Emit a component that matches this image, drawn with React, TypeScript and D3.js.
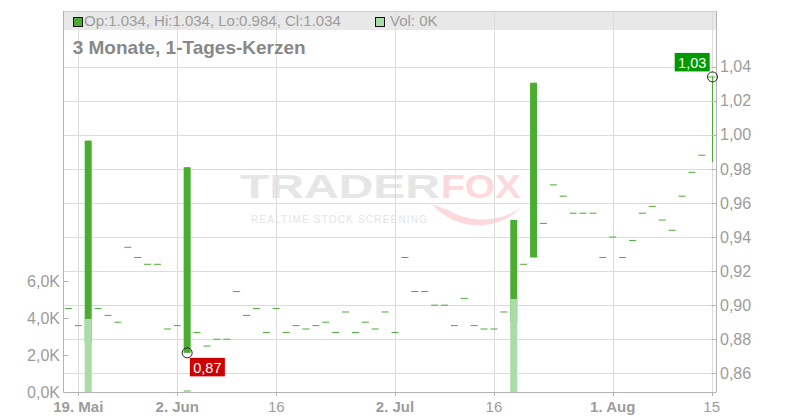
import React from "react";
import * as d3 from "d3";

// Trading days (index -1 .. 64 of the visible range)
const dates = [
  "2025-05-16",
  "2025-05-19", "2025-05-20", "2025-05-21", "2025-05-22", "2025-05-23",
  "2025-05-26", "2025-05-27", "2025-05-28", "2025-05-29", "2025-05-30",
  "2025-06-02", "2025-06-03", "2025-06-04", "2025-06-05", "2025-06-06",
  "2025-06-09", "2025-06-10", "2025-06-11", "2025-06-12", "2025-06-13",
  "2025-06-16", "2025-06-17", "2025-06-18", "2025-06-19", "2025-06-20",
  "2025-06-23", "2025-06-24", "2025-06-25", "2025-06-26", "2025-06-27",
  "2025-06-30", "2025-07-01", "2025-07-02", "2025-07-03", "2025-07-04",
  "2025-07-07", "2025-07-08", "2025-07-09", "2025-07-10", "2025-07-11",
  "2025-07-14", "2025-07-15", "2025-07-16", "2025-07-17", "2025-07-18",
  "2025-07-21", "2025-07-22", "2025-07-23", "2025-07-24", "2025-07-25",
  "2025-07-28", "2025-07-29", "2025-07-30", "2025-07-31", "2025-08-01",
  "2025-08-04", "2025-08-05", "2025-08-06", "2025-08-07", "2025-08-08",
  "2025-08-11", "2025-08-12", "2025-08-13", "2025-08-14", "2025-08-15",
];

const opens = [
  0.898,
  0.888, 0.878, 0.898, 0.894, 0.890, 0.934, 0.928, 0.924, 0.924, 0.886,
  0.888, 0.872, 0.884, 0.876, 0.880, 0.880, 0.908, 0.894, 0.898, 0.884,
  0.898, 0.884, 0.888, 0.886, 0.888, 0.890, 0.884, 0.896, 0.884, 0.890,
  0.886, 0.896, 0.884, 0.928, 0.908, 0.908, 0.900, 0.900, 0.888, 0.904,
  0.888, 0.886, 0.886, 0.896, 0.890, 0.924, 0.928, 0.948, 0.9706, 0.964,
  0.954, 0.954, 0.954, 0.928, 0.940, 0.928, 0.938, 0.954, 0.958, 0.950,
  0.944, 0.964, 0.978, 0.988, 1.034,
];

const closes = [
  0.898,
  0.888, 0.9966, 0.898, 0.894, 0.890, 0.934, 0.928, 0.924, 0.924, 0.886,
  0.888, 0.981, 0.884, 0.876, 0.880, 0.880, 0.908, 0.894, 0.898, 0.884,
  0.898, 0.884, 0.888, 0.886, 0.888, 0.890, 0.884, 0.896, 0.884, 0.890,
  0.886, 0.896, 0.884, 0.928, 0.908, 0.908, 0.900, 0.900, 0.888, 0.904,
  0.888, 0.886, 0.886, 0.896, 0.950, 0.924, 1.0306, 0.948, 0.9706, 0.964,
  0.954, 0.954, 0.954, 0.928, 0.940, 0.928, 0.938, 0.954, 0.958, 0.950,
  0.944, 0.964, 0.978, 0.988, 1.034,
];

const highs = [
  0.898,
  0.888, 0.9966, 0.898, 0.894, 0.890, 0.934, 0.928, 0.924, 0.924, 0.886,
  0.888, 0.981, 0.884, 0.876, 0.880, 0.880, 0.908, 0.894, 0.898, 0.884,
  0.898, 0.884, 0.888, 0.886, 0.888, 0.890, 0.884, 0.896, 0.884, 0.890,
  0.886, 0.896, 0.884, 0.928, 0.908, 0.908, 0.900, 0.900, 0.888, 0.904,
  0.888, 0.886, 0.886, 0.896, 0.950, 0.924, 1.0306, 0.948, 0.9706, 0.964,
  0.954, 0.954, 0.954, 0.928, 0.940, 0.928, 0.938, 0.954, 0.958, 0.950,
  0.944, 0.964, 0.978, 0.988, 1.034,
];

const lows = [
  0.898,
  0.888, 0.878, 0.898, 0.894, 0.890, 0.934, 0.928, 0.924, 0.924, 0.886,
  0.888, 0.872, 0.884, 0.876, 0.880, 0.880, 0.908, 0.894, 0.898, 0.884,
  0.898, 0.884, 0.888, 0.886, 0.888, 0.890, 0.884, 0.896, 0.884, 0.890,
  0.886, 0.896, 0.884, 0.928, 0.908, 0.908, 0.900, 0.900, 0.888, 0.904,
  0.888, 0.886, 0.886, 0.896, 0.890, 0.924, 0.928, 0.948, 0.9706, 0.964,
  0.954, 0.954, 0.954, 0.928, 0.940, 0.928, 0.938, 0.954, 0.958, 0.950,
  0.944, 0.964, 0.978, 0.988, 0.984,
];

const volumes = [
  0,
  0, 3950, 0, 0, 0, 0, 0, 0, 0, 0,
  0, 110, 0, 0, 0, 0, 0, 0, 0, 0,
  0, 0, 0, 0, 0, 0, 0, 0, 0, 0,
  0, 0, 0, 0, 0, 0, 0, 0, 0, 0,
  0, 0, 0, 0, 5030, 0, 0, 0, 0, 0,
  0, 0, 0, 0, 0, 0, 0, 0, 0, 0,
  0, 0, 0, 0, 0,
];

const priceTicks = [0.86, 0.88, 0.9, 0.92, 0.94, 0.96, 0.98, 1.0, 1.02, 1.04];
const volumeTicks = [0, 2000, 4000, 6000];
const xTickDates = ["2025-05-19", "2025-06-02", "2025-06-16", "2025-07-02", "2025-07-16", "2025-08-01", "2025-08-15"];
const xTickLabels = ["19. Mai", "2. Jun", "16", "2. Jul", "16", "1. Aug", "15"];
const xTickBold = [true, true, false, true, false, true, false];

const legendText = "Op:1.034, Hi:1.034, Lo:0.984, Cl:1.034";
const volLegendText = "Vol: 0K";
const titleText = "3 Monate, 1-Tages-Kerzen";

const FONT = "'Liberation Sans', Arial, Helvetica, sans-serif";
const GREEN = "#4aad32";
const VOL_GREEN = "#a9dca6";
const GRID = "#dcdcdc";
const AXIS = "#b4b4b4";
const TEXT = "#9c9c9c";

export default function App() {
  const W = 800;
  const H = 420;
  const left = 63.5;
  const right = 716.5;
  const top = 11;
  const bottom = 392;

  const x = d3.scalePoint<string>().domain(dates).range([68.4, 711.7]);
  const yP = d3.scaleLinear().domain([0.86, 1.04]).range([373.3, 66.7]);
  const yV = d3.scaleLinear().domain([0, 6000]).range([bottom, 281]);

  const fmtP = (v: number) => d3.format(".2f")(v).replace(".", ",");
  const fmtV = (v: number) => d3.format(".1f")(v / 1000).replace(".", ",") + "K";

  const minI = d3.minIndex(lows);
  const lastI = dates.length - 1;
  const candleW = 7;

  const minX = x(dates[minI])!;
  const minY = yP(lows[minI]);
  const lastX = x(dates[lastI])!;
  const lastY = yP(closes[lastI]);

  return (
    <svg
      width={W}
      height={H}
      style={{ position: "absolute", left: 0, top: 0, background: "#fff" }}
      fontFamily={FONT}
    >
      {/* legend band */}
      <rect x={left} y={top} width={right - left} height={19} fill="#e8e8e8" />

      {/* watermark */}
      <g>
        <text x={240} y={198} fontSize={33} fontWeight="bold" fill="#e6e6e6" textLength={200} lengthAdjust="spacingAndGlyphs">
          TRADER
        </text>
        <text x={441} y={198} fontSize={33} fontWeight="bold" fill="#fdd9de" textLength={80} lengthAdjust="spacingAndGlyphs">
          FOX
        </text>
        <path d="M432,204 C455,232 500,232 522,206 C505,222 470,224 448,210 Z" fill="#fdd9de" />
        <text x={251} y={223} fontSize={10} fill="#e4e4e4" textLength={176} lengthAdjust="spacing">
          REALTIME STOCK SCREENING
        </text>
      </g>

      {/* horizontal grid */}
      {priceTicks.map((t) => (
        <line key={"hg" + t} x1={left} x2={right} y1={Math.round(yP(t)) + 0.5} y2={Math.round(yP(t)) + 0.5} stroke={GRID} />
      ))}
      {/* vertical grid */}
      {xTickDates.map((d) => (
        <line key={"vg" + d} x1={Math.round(x(d)!) + 0.5} x2={Math.round(x(d)!) + 0.5} y1={top} y2={bottom} stroke={GRID} />
      ))}
      <line x1={left} x2={right} y1={top + 0.5} y2={top + 0.5} stroke="#cfcfcf" />

      {/* candles */}
      {dates.map((d, i) => {
        const cx = x(d)!;
        const o = opens[i];
        const c = closes[i];
        const yTop = yP(Math.max(o, c));
        const yBot = yP(Math.min(o, c));
        const h = Math.max(1, yBot - yTop);
        const col = c >= o ? GREEN : "#d62020";
        return (
          <g key={"c" + d}>
            {highs[i] !== lows[i] && (
              <line x1={Math.round(cx) + 0.5} x2={Math.round(cx) + 0.5} y1={yP(highs[i])} y2={yP(lows[i])} stroke={col} strokeWidth={1} />
            )}
            <rect x={cx - candleW / 2} y={yTop - (h === 1 ? 0.5 : 0)} width={candleW} height={h} fill={col} />
          </g>
        );
      })}

      {/* volume bars */}
      {dates.map((d, i) =>
        volumes[i] > 0 ? (
          <rect key={"v" + d} x={x(d)! - candleW / 2} y={yV(volumes[i])} width={candleW} height={bottom - yV(volumes[i])} fill={VOL_GREEN} />
        ) : null
      )}

      {/* axes lines */}
      <line x1={left} x2={left} y1={top} y2={bottom} stroke={AXIS} />
      <line x1={right} x2={right} y1={top} y2={bottom} stroke={AXIS} />
      <line x1={left} x2={right} y1={bottom + 0.5} y2={bottom + 0.5} stroke={AXIS} />

      {/* left volume axis */}
      {volumeTicks.map((t) => (
        <g key={"vt" + t}>
          <line x1={left} x2={left + 5} y1={Math.round(yV(t)) + 0.5} y2={Math.round(yV(t)) + 0.5} stroke={AXIS} />
          <text x={60} y={yV(t)} dy="0.35em" textAnchor="end" fontSize={16} fill={TEXT}>
            {fmtV(t)}
          </text>
        </g>
      ))}

      {/* right price axis */}
      {priceTicks.map((t) => (
        <g key={"pt" + t}>
          <line x1={right - 5} x2={right} y1={Math.round(yP(t)) + 0.5} y2={Math.round(yP(t)) + 0.5} stroke={AXIS} />
          <text x={720} y={yP(t)} dy="0.35em" fontSize={16} fill={TEXT}>
            {fmtP(t)}
          </text>
        </g>
      ))}

      {/* bottom axis */}
      {xTickDates.map((d, i) => (
        <g key={"xt" + d}>
          <line x1={Math.round(x(d)!) + 0.5} x2={Math.round(x(d)!) + 0.5} y1={bottom} y2={bottom + 4} stroke={AXIS} />
          <text x={x(d)!} y={411.7} textAnchor="middle" fontSize={15} fontWeight={xTickBold[i] ? "bold" : "normal"} fill={TEXT}>
            {xTickLabels[i]}
          </text>
        </g>
      ))}

      {/* min marker */}
      <circle cx={minX} cy={minY} r={5} fill="none" stroke="#222" strokeWidth={1} />
      <rect x={minX + 2.7} y={minY + 5} width={35} height={18.5} fill="#cc0000" />
      <text x={minX + 2.7 + 17.5} y={minY + 5 + 15} textAnchor="middle" fontSize={14.5} fill="#fff">
        {fmtP(lows[minI])}
      </text>

      {/* last price marker */}
      <circle cx={Math.round(lastX) + 0.5} cy={lastY} r={5} fill="none" stroke="#222" strokeWidth={1} />
      <rect x={lastX - 37} y={lastY - 24} width={35} height={18.5} fill="#009a00" />
      <text x={lastX - 37 + 17.5} y={lastY - 24 + 15} textAnchor="middle" fontSize={14.5} fill="#fff">
        {fmtP(closes[lastI])}
      </text>

      {/* legend */}
      <rect x={73.5} y={17.5} width={9} height={9} fill={GREEN} stroke="#111" />
      <text x={84} y={26.3} fontSize={15} fill={TEXT}>
        {legendText}
      </text>
      <rect x={375.5} y={17.5} width={9} height={9} fill={VOL_GREEN} stroke="#111" />
      <text x={390} y={26.3} fontSize={15} fill={TEXT}>
        {volLegendText}
      </text>

      {/* title */}
      <text x={72.7} y={53.7} fontSize={19} fontWeight="bold" fill="#888">
        {titleText}
      </text>
    </svg>
  );
}
